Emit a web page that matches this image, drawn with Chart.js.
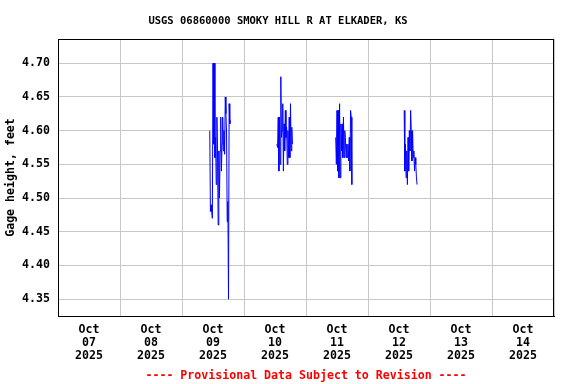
<!DOCTYPE html>
<html><head><meta charset="utf-8">
<script src="https://cdn.jsdelivr.net/npm/chart.js@4/dist/chart.umd.min.js"></script>
<style>html,body{margin:0;padding:0;background:#fff}canvas{display:block}</style>
</head><body>
<canvas id="c" width="576" height="384"></canvas>
<script>
// ---- text ----
const titleText = 'USGS 06860000 SMOKY HILL R AT ELKADER, KS';
const yAxisTitle = 'Gage height, feet';
const footerText = '---- Provisional Data Subject to Revision ----';

// ---- x axis: days (Oct 07 .. Oct 14, 2025) ----
const dayLabels = [
  ['Oct','07','2025'], ['Oct','08','2025'], ['Oct','09','2025'], ['Oct','10','2025'],
  ['Oct','11','2025'], ['Oct','12','2025'], ['Oct','13','2025'], ['Oct','14','2025']
];
// ---- y axis ticks ----
const yTicks = [4.35, 4.40, 4.45, 4.50, 4.55, 4.60, 4.65, 4.70];

// ---- gage height readings, 15-minute interval, per day ----
const oct09Start = '10:45';
const oct09Values = [4.60, 4.48, 4.49, 4.48, 4.47, 4.70, 4.58, 4.70, 4.56, 4.59, 4.52, 4.62, 4.57, 4.46, 4.57, 4.50, 4.57,
  4.62, 4.54, 4.58, 4.62, 4.57, 4.60, 4.565, 4.65, 4.625, 4.595, 4.465, 4.495, 4.35, 4.64, 4.61, 4.615];
const oct10Start = '12:45';
const oct10Values = [4.58, 4.575, 4.62, 4.54, 4.62, 4.55, 4.68, 4.59, 4.60, 4.64, 4.54, 4.61, 4.57, 4.63, 4.59, 4.605,
  4.55, 4.60, 4.56, 4.62, 4.56, 4.64, 4.57, 4.605, 4.58];
const oct11Start = '11:30';
const oct11Values = [4.59, 4.55, 4.63, 4.54, 4.63, 4.53, 4.64, 4.53, 4.61, 4.57, 4.61, 4.56, 4.62, 4.56, 4.60, 4.59,
  4.56, 4.58, 4.56, 4.58, 4.555, 4.59, 4.54, 4.63, 4.62, 4.52];
const oct12Start = '14:00';
const oct12Values = [4.63, 4.54, 4.58, 4.53, 4.57, 4.52, 4.59, 4.54, 4.60, 4.57, 4.63, 4.60, 4.555, 4.60, 4.56, 4.57,
  4.54, 4.56, 4.55, 4.53, 4.52];

const segments = [
  {day: 2, start: oct09Start, values: oct09Values},
  {day: 3, start: oct10Start, values: oct10Values},
  {day: 4, start: oct11Start, values: oct11Values},
  {day: 5, start: oct12Start, values: oct12Values}
];

// build points: x = hours since Oct 07 00:00
const points = [];
segments.forEach((seg, k) => {
  const [hh, mm] = seg.start.split(':').map(Number);
  const t0 = seg.day * 24 + hh + mm / 60;
  seg.values.forEach((v, i) => points.push({x: t0 + i * 0.25, y: v}));
  if (k < segments.length - 1) points.push({x: t0 + seg.values.length * 0.25, y: null});
});

const tickHours = [];
for (let d = 0; d <= dayLabels.length; d++) { tickHours.push(d * 24); if (d < dayLabels.length) tickHours.push(d * 24 + 12); }

const FONT = '"DejaVu Sans Mono", "Liberation Mono", monospace';

const framePlugin = {
  id: 'frame',
  afterDraw(chart) {
    const {ctx, chartArea: a} = chart;
    ctx.save();
    ctx.strokeStyle = '#000';
    ctx.lineWidth = 1;
    ctx.strokeRect(Math.round(a.left) + 0.5, Math.round(a.top) + 0.5, Math.round(a.right - a.left) - 1, Math.round(a.bottom - a.top));
    ctx.fillStyle = '#000';
    ctx.font = 'bold 10.5px ' + FONT;
    ctx.textAlign = 'center';
    ctx.textBaseline = 'alphabetic';
    ctx.fillText(titleText, 278, 24);
    ctx.fillStyle = '#ff0000';
    ctx.font = 'bold 11.6px ' + FONT;
    ctx.fillText(footerText, (a.left + a.right) / 2, 378.5);
    ctx.restore();
  }
};

new Chart(document.getElementById('c'), {
  type: 'line',
  data: {
    datasets: [{
      data: points,
      borderColor: '#0000ff',
      borderWidth: 1,
      pointRadius: 0,
      tension: 0,
      spanGaps: false,
      fill: false
    }]
  },
  options: {
    responsive: false,
    animation: false,
    devicePixelRatio: 1,
    parsing: true,
    layout: {padding: {top: 39, right: 22, bottom: 22, left: 0}},
    plugins: {legend: {display: false}, title: {display: false}, tooltip: {enabled: false}},
    scales: {
      x: {
        type: 'linear',
        min: 0,
        max: dayLabels.length * 24,
        afterBuildTicks: s => { s.ticks = tickHours.map(v => ({value: v})); },
        afterFit: s => { s.height = 46; },
        grid: {
          color: c => (c.tick && c.tick.value % 24 === 0) ? '#c8c8c8' : 'rgba(0,0,0,0)',
          drawTicks: false,
          lineWidth: 1
        },
        border: {display: true, color: '#000', width: 1},
        ticks: {
          autoSkip: false,
          maxRotation: 0,
          minRotation: 0,
          padding: 8,
          color: '#000',
          font: {family: FONT, size: 11.6, weight: 'bold', lineHeight: 1.11},
          callback: v => (v % 24 === 12) ? dayLabels[(v - 12) / 24] : ''
        }
      },
      y: {
        type: 'linear',
        min: 4.325,
        max: 4.736,
        afterBuildTicks: s => { s.ticks = yTicks.map(v => ({value: v})); },
        afterFit: s => { s.width = 58; },
        grid: {color: '#c8c8c8', drawTicks: false, lineWidth: 1},
        border: {display: true, color: '#000', width: 1},
        ticks: {
          padding: 8,
          color: '#000',
          font: {family: FONT, size: 11.6, weight: 'bold'},
          callback: v => Number(v).toFixed(2)
        },
        title: {
          display: true,
          text: yAxisTitle,
          color: '#000',
          font: {family: FONT, size: 11.6, weight: 'bold'},
          padding: {top: 4, bottom: 0}
        }
      }
    }
  },
  plugins: [framePlugin]
});
</script>
</body></html>
